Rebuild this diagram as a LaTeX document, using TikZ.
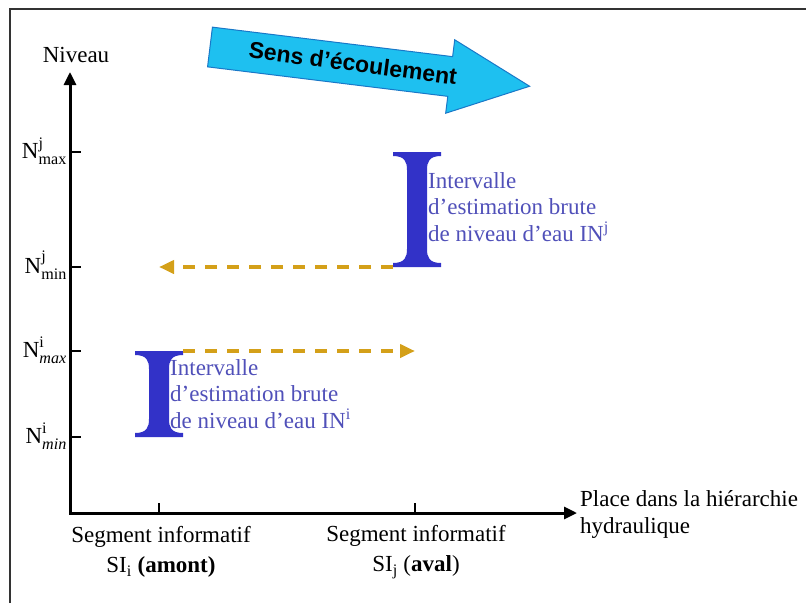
\documentclass[tikz,border=0pt]{standalone}
\usepackage{amsmath}
\usepackage{fontspec}
\setmainfont{Liberation Serif}
\newfontfamily\flowfont{Liberation Sans}
\usepackage{tikz}
\usetikzlibrary{positioning, calc, arrows.meta}

\definecolor{flowcyan}{RGB}{30,192,240}
\definecolor{flowedge}{RGB}{25,120,200}
\definecolor{ibeamblue}{RGB}{50,50,200}
\definecolor{labelblue}{RGB}{80,80,185}
\definecolor{dashgold}{RGB}{212,160,25}

% blue interval bracket: centre x, top y, bottom y
\newcommand{\ibeam}[3]{%
  \fill[ibeamblue] (#1-24,#2) -- (#1+24,#2) -- (#1+24,#2+4)
    .. controls (#1+12,#2+4) and (#1+10,#2+10) .. (#1+10,#2+18)
    -- (#1+10,#3-18)
    .. controls (#1+10,#3-10) and (#1+12,#3-4) .. (#1+24,#3-4)
    -- (#1+24,#3) -- (#1-24,#3) -- (#1-24,#3-4)
    .. controls (#1-12,#3-4) and (#1-10,#3-10) .. (#1-10,#3-18)
    -- (#1-10,#2+18)
    .. controls (#1-10,#2+10) and (#1-12,#2+4) .. (#1-24,#2+4) -- cycle;}

\begin{document}
\begin{tikzpicture}[
    x=1pt, y=-1pt,
    axis/.style={line width=3pt, line join=miter, {Triangle[length=13pt,width=12pt]}-{Triangle[length=13pt,width=12pt]}},
    tick/.style={line width=2.5pt},
    flow/.style={dashgold, line width=4pt, dash pattern=on 12pt off 10pt, -{Triangle[length=15pt,width=13pt]}},
    lvl/.style={anchor=base east, inner sep=0pt, font=\fontsize{23}{27}\selectfont},
    seg/.style={align=center, inner sep=0pt, font=\fontsize{23}{30}\selectfont},
    estim/.style={anchor=north west, align=left, inner sep=0pt, text=labelblue, font=\fontsize{23}{26.5}\selectfont}
]
    \useasboundingbox (0,0) rectangle (806,603);

    % Frame
    \draw[line width=2.5pt, black!80] (10,603) -- (10,9) -- (806,9);

    % Flow direction
    \begin{scope}[shift={(210,47)}, rotate=-7]
        \filldraw[fill=flowcyan, draw=flowedge, line width=1pt]
            (0,-20) -- (242,-20) -- (242,-37) -- (322,0) -- (242,37) -- (242,20) -- (0,20) -- cycle;
    \end{scope}
    \node[rotate=-7.5, inner sep=0pt, font=\flowfont\bfseries\fontsize{23}{27}\selectfont] (sens) at (353,63) {Sens d’écoulement};

    % Axes
    \coordinate (O) at (70,513);
    \coordinate (ytip) at (70,72);
    \coordinate (xtip) at (577,513);
    \draw[axis] (ytip) -- (O) -- (xtip);
    \node[font=\fontsize{23}{27}\selectfont] (niveau) at (76,55) {Niveau};
    \node[anchor=north west, align=left, inner sep=0pt, font=\fontsize{23}{27}\selectfont] (place) at (580,490) {Place dans la hiérarchie\\hydraulique};

    % Levels
    \foreach \y in {152,267,351,437}
        \draw[tick] (70,\y) -- (81,\y);
    \node[lvl] (Njmax) at (67,158) {N$^{\text{j}}_{\text{max}}$};
    \node[lvl] (Njmin) at (67,273) {N$^{\text{j}}_{\text{min}}$};
    \node[lvl] (Nimax) at (67,357) {N$^{\text{i}}_{\textit{max}}$};
    \node[lvl] (Nimin) at (67,443) {N$^{\text{i}}_{\textit{min}}$};

    % Segments
    \coordinate (SIi) at (159,513);
    \coordinate (SIj) at (415,513);
    \draw[tick] (SIi) -- ++(0,-10);
    \draw[tick] (SIj) -- ++(0,-10);
    \node[seg] (SIiLab) at (161,552) {Segment informatif\\SI$_{\text{i}}$ \textbf{(amont)}};
    \node[seg] (SIjLab) at (416,552) {Segment informatif\\SI$_{\text{j}}$ (\textbf{aval})};

    % Intervals
    \ibeam{417}{152}{267}
    \ibeam{159}{351}{437}
    \node[estim] (INj) at (428,172) {Intervalle\\d’estimation brute\\de niveau d’eau IN\textsuperscript{j}};
    \node[estim] (INi) at (170,359) {Intervalle\\d’estimation brute\\de niveau d’eau IN\textsuperscript{i}};

    % Propagation
    \coordinate (Ijfoot) at (393,267);
    \coordinate (Iihead) at (183,351);
    \draw[flow] (Ijfoot) -- (Ijfoot -| SIi);
    \draw[flow] (Iihead) -- (Iihead -| SIj);
\end{tikzpicture}
\end{document}
